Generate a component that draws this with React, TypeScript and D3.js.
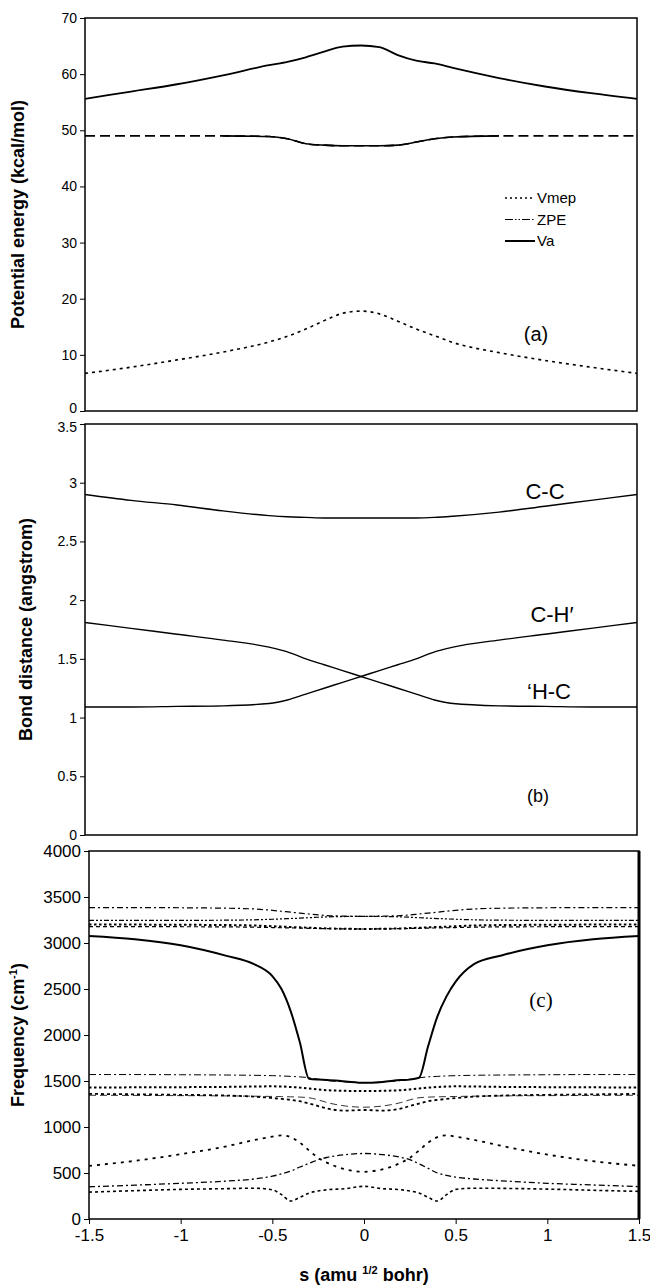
import { useEffect, useRef } from 'react';
import * as d3 from 'd3';

// reaction coordinate s (amu^1/2 bohr)
const sPot = [-1.5, -1.25, -1, -0.75, -0.5, -0.4, -0.3, -0.2, -0.1, 0, 0.1, 0.2, 0.3, 0.4, 0.5, 0.75, 1, 1.25, 1.5];

// panel (a): kcal/mol
const vmep = [6.7, 7.8, 9.1, 10.5, 12.3, 13.3, 14.6, 16.1, 17.4, 17.8, 17.3, 16.0, 14.6, 13.4, 12.2, 10.4, 9.0, 7.8, 6.7];
const zpe = [49, 49, 49, 49, 48.9, 48.5, 47.6, 47.35, 47.25, 47.25, 47.25, 47.35, 47.9, 48.5, 48.8, 49, 49, 49, 49];
const va = [55.6, 56.9, 58.2, 59.8, 61.6, 62.2, 63.0, 64.0, 64.9, 65.1, 64.8, 63.4, 62.4, 61.9, 61.1, 59.3, 57.8, 56.6, 55.6];
const potTicks = [0, 10, 20, 30, 40, 50, 60, 70];

// panel (b): angstrom
const bondCC = [2.9, 2.85, 2.81, 2.76, 2.72, 2.71, 2.705, 2.7, 2.7, 2.7, 2.7, 2.7, 2.7, 2.705, 2.715, 2.75, 2.8, 2.85, 2.9];
const bondHC = [1.81, 1.76, 1.71, 1.66, 1.6, 1.56, 1.5, 1.45, 1.4, 1.35, 1.3, 1.25, 1.2, 1.15, 1.12, 1.1, 1.095, 1.09, 1.09];
const bondCH = [1.09, 1.09, 1.095, 1.1, 1.12, 1.15, 1.2, 1.25, 1.3, 1.35, 1.4, 1.45, 1.5, 1.56, 1.6, 1.66, 1.71, 1.76, 1.81];
const bondTicks = [0, 0.5, 1, 1.5, 2, 2.5, 3, 3.5];

// panel (c): cm-1
const sFreq = [-1.5, -1.25, -1, -0.75, -0.6, -0.5, -0.45, -0.4, -0.35, -0.3, -0.25, -0.2, -0.1, 0, 0.1, 0.2, 0.25, 0.3, 0.35, 0.4, 0.45, 0.5, 0.6, 0.75, 1, 1.25, 1.5];
const freqRxn = [3075, 3040, 2975, 2860, 2770, 2640, 2500, 2260, 1920, 1525, 1515, 1512, 1495, 1480, 1490, 1510, 1515, 1535, 1880, 2200, 2420, 2580, 2770, 2865, 2975, 3040, 3075];
const freqA = [3385, 3385, 3383, 3378, 3370, 3355, 3345, 3335, 3325, 3315, 3305, 3298, 3292, 3290, 3292, 3298, 3305, 3315, 3325, 3335, 3345, 3355, 3370, 3378, 3383, 3385, 3385];
const freqB = [3245, 3245, 3246, 3248, 3252, 3258, 3262, 3266, 3270, 3275, 3280, 3284, 3288, 3290, 3288, 3284, 3280, 3275, 3270, 3266, 3262, 3258, 3252, 3248, 3246, 3245, 3245];
const freqC = [3200, 3200, 3198, 3195, 3190, 3182, 3178, 3174, 3170, 3166, 3162, 3158, 3155, 3152, 3155, 3158, 3162, 3166, 3170, 3174, 3178, 3182, 3190, 3195, 3198, 3200, 3200];
const freqD = [3178, 3178, 3177, 3175, 3172, 3168, 3166, 3164, 3162, 3160, 3158, 3156, 3154, 3152, 3154, 3156, 3158, 3160, 3162, 3164, 3166, 3168, 3172, 3175, 3177, 3178, 3178];
const freqE = [1570, 1570, 1568, 1565, 1562, 1558, 1555, 1550, 1545, 1535, 1520, 1505, 1490, 1482, 1490, 1505, 1520, 1535, 1545, 1550, 1555, 1558, 1562, 1565, 1568, 1570, 1570];
const freqF = [1430, 1431, 1433, 1436, 1440, 1442, 1440, 1435, 1428, 1418, 1408, 1400, 1393, 1390, 1393, 1400, 1408, 1418, 1428, 1435, 1440, 1442, 1440, 1436, 1433, 1431, 1430];
const freqG = [1360, 1355, 1350, 1342, 1330, 1315, 1305, 1295, 1280, 1255, 1228, 1200, 1178, 1185, 1178, 1200, 1228, 1255, 1280, 1295, 1305, 1315, 1330, 1342, 1350, 1355, 1360];
const freqH = [1345, 1343, 1341, 1338, 1335, 1332, 1330, 1328, 1325, 1318, 1295, 1265, 1228, 1215, 1228, 1265, 1295, 1318, 1325, 1328, 1330, 1332, 1335, 1338, 1341, 1343, 1345];
const freqI = [578, 632, 705, 790, 858, 895, 910, 890, 830, 745, 665, 610, 540, 513, 540, 610, 665, 745, 830, 890, 910, 895, 860, 795, 700, 628, 578];
const freqJ = [350, 368, 388, 412, 435, 465, 490, 520, 565, 605, 645, 670, 700, 712, 700, 670, 645, 600, 550, 500, 475, 455, 435, 415, 388, 370, 352];
const freqK = [292, 308, 322, 330, 335, 318, 265, 195, 235, 282, 305, 318, 330, 355, 330, 318, 305, 282, 235, 195, 265, 322, 335, 333, 325, 312, 300];
const freqTicks = [0, 500, 1000, 1500, 2000, 2500, 3000, 3500, 4000];
const sTicks = [-1.5, -1, -0.5, 0, 0.5, 1, 1.5];

const W = 650;
const H = 1287;
const SANS = "'Liberation Sans', Arial, sans-serif";
const NARROW = "'Liberation Sans Narrow', 'Arial Narrow', 'Liberation Sans', sans-serif";

const zip = (xs: number[], ys: number[]) => xs.map((s, i) => [s, ys[i]] as [number, number]);

const App = () => {
    const svgRef = useRef<SVGSVGElement>(null);

    useEffect(() => {
        const svg = d3.select(svgRef.current);
        svg.selectAll('*').remove();

        const panel = (box: { x0: number; x1: number; y0: number; y1: number }, yMax: number, ticks: number[], font: string, fontSize: number) => {
            const x = d3.scaleLinear().domain([-1.5, 1.5]).range([box.x0, box.x1]);
            const y = d3.scaleLinear().domain([0, yMax]).range([box.y1, box.y0]);
            const g = svg.append('g');
            const ax = g.append('g')
                .attr('transform', `translate(${box.x0},0)`)
                .call(d3.axisLeft(y).tickValues(ticks).tickSize(5).tickPadding(3).tickFormat(d => String(d)));
            ax.select('.domain').remove();
            ax.selectAll('line').attr('stroke', '#000').attr('stroke-width', 1);
            ax.selectAll('text').attr('font-family', font).attr('font-size', fontSize).attr('fill', '#000');
            const line = d3.line<[number, number]>().x(d => x(d[0])).y(d => y(d[1])).curve(d3.curveMonotoneX);
            return { g, ax, x, y, line };
        };

        const drawLine = (p: any, data: [number, number][], dash: string | null, width: number) => {
            p.g.append('path')
                .datum(data)
                .attr('fill', 'none')
                .attr('stroke', '#000')
                .attr('stroke-width', width)
                .attr('stroke-dasharray', dash)
                .attr('d', p.line);
        };

        const frame = (p: any, box: any, w: number) => {
            p.g.append('rect')
                .attr('x', box.x0).attr('y', box.y0)
                .attr('width', box.x1 - box.x0).attr('height', box.y1 - box.y0)
                .attr('fill', 'none').attr('stroke', '#000').attr('stroke-width', w);
        };

        // ---- panel (a)
        const boxA = { x0: 85, x1: 637, y0: 18, y1: 411 };
        const pa = panel(boxA, 70, potTicks, NARROW, 14);
        // bottom "0" sits right on top of the next panel's "3.5", as in the source
        pa.ax.selectAll('text').filter((d: any) => d === 0).attr('dy', '0.1em');
        drawLine(pa, zip(sPot, vmep), '3,4', 1.6);
        drawLine(pa, zip(sPot, zpe), '10,5', 1.6);
        drawLine(pa, zip(sPot, zpe).filter(d => Math.abs(d[0]) <= 0.75), null, 1.6);
        drawLine(pa, zip(sPot, va), null, 1.8);
        frame(pa, boxA, 1.5);

        const legend = [
            { label: 'Vmep', dash: '2,3', w: 1.6 },
            { label: 'ZPE', dash: '8,2,1.5,2,1.5,2', w: 1.2 },
            { label: 'Va', dash: null, w: 2 },
        ];
        legend.forEach((l, i) => {
            const ly = 198 + i * 21.5;
            pa.g.append('line').attr('x1', 505).attr('x2', 535).attr('y1', ly).attr('y2', ly)
                .attr('stroke', '#000').attr('stroke-width', l.w).attr('stroke-dasharray', l.dash);
            pa.g.append('text').attr('x', 537).attr('y', ly + 5).text(l.label)
                .attr('font-family', NARROW).attr('font-size', 15);
        });
        pa.g.append('text').attr('x', 536).attr('y', 341).attr('text-anchor', 'middle')
            .attr('font-family', SANS).attr('font-size', 20).text('(a)');
        svg.append('text')
            .attr('transform', `translate(24,${(boxA.y0 + boxA.y1) / 2}) rotate(-90)`)
            .attr('text-anchor', 'middle').attr('font-family', SANS).attr('font-weight', 'bold')
            .attr('font-size', 18).text('Potential energy (kcal/mol)');

        // ---- panel (b)
        const boxB = { x0: 85, x1: 637, y0: 424, y1: 835 };
        const pb = panel(boxB, 3.5, bondTicks, NARROW, 14);
        pb.ax.selectAll('text').filter((d: any) => d === 3.5).attr('dy', '0.5em');
        drawLine(pb, zip(sPot, bondCC), null, 1.4);
        drawLine(pb, zip(sPot, bondHC), null, 1.4);
        drawLine(pb, zip(sPot, bondCH), null, 1.4);
        frame(pb, boxB, 1.5);
        const bondLabels = [
            { t: 'C-C', x: 545, y: 499 },
            { t: 'C-H\u2032', x: 552, y: 622 },
            { t: '\u2018H-C', x: 549, y: 699 },
        ];
        bondLabels.forEach(b => {
            pb.g.append('text').attr('x', b.x).attr('y', b.y).attr('text-anchor', 'middle')
                .attr('font-family', NARROW).attr('font-size', 22).text(b.t);
        });
        pb.g.append('text').attr('x', 538).attr('y', 802).attr('text-anchor', 'middle')
            .attr('font-family', SANS).attr('font-size', 18).text('(b)');
        svg.append('text')
            .attr('transform', `translate(32,${(boxB.y0 + boxB.y1) / 2}) rotate(-90)`)
            .attr('text-anchor', 'middle').attr('font-family', SANS).attr('font-weight', 'bold')
            .attr('font-size', 18).text('Bond distance (angstrom)');

        // ---- panel (c)
        const boxC = { x0: 89, x1: 639, y0: 851, y1: 1219 };
        const pc = panel(boxC, 4000, freqTicks, SANS, 17);
        const styles: [number[], string, number][] = [
            [freqA, '6,3,2,3', 1.2],
            [freqB, '5,2,2,2,2,2', 1.2],
            [freqC, '2.5,2.5', 2],
            [freqD, '4,3', 1.2],
            [freqE, '7,3,2,3', 1],
            [freqF, '2.5,2.5', 2],
            [freqG, '3,3', 1.8],
            [freqH, '7,4', 0.8],
            [freqI, '3,5', 1.8],
            [freqJ, '6,3,2,3', 1.3],
            [freqK, '3,3', 1.6],
        ];
        styles.forEach(([vals, dash, w]) => drawLine(pc, zip(sFreq, vals), dash, w));
        drawLine(pc, zip(sFreq, freqRxn), null, 2);
        frame(pc, boxC, 1.5);
        pc.g.append('line').attr('x1', boxC.x1).attr('x2', boxC.x1).attr('y1', boxC.y0).attr('y2', boxC.y1)
            .attr('stroke', '#000').attr('stroke-width', 3);

        const xa = pc.g.append('g')
            .attr('transform', `translate(0,${boxC.y1})`)
            .call(d3.axisBottom(pc.x).tickValues(sTicks).tickSize(5).tickPadding(5).tickFormat(d => String(d)));
        xa.select('.domain').remove();
        xa.selectAll('line').attr('stroke', '#000');
        xa.selectAll('text').attr('font-family', SANS).attr('font-size', 17).attr('fill', '#000');

        pc.g.append('text').attr('x', 541).attr('y', 1007).attr('text-anchor', 'middle')
            .attr('font-family', "'Liberation Serif', 'Times New Roman', serif").attr('font-size', 21).text('(c)');

        const fTitle = svg.append('text')
            .attr('transform', `translate(24,${(boxC.y0 + boxC.y1) / 2}) rotate(-90)`)
            .attr('text-anchor', 'middle').attr('font-family', SANS).attr('font-weight', 'bold')
            .attr('font-size', 18);
        fTitle.append('tspan').text('Frequency (cm');
        fTitle.append('tspan').attr('font-size', 11).attr('dy', -7).text('-1');
        fTitle.append('tspan').attr('dy', 7).text(')');

        const sTitle = svg.append('text')
            .attr('x', pc.x(0)).attr('y', 1281).attr('text-anchor', 'middle')
            .attr('font-family', SANS).attr('font-weight', 'bold').attr('font-size', 18);
        sTitle.append('tspan').text('s (amu ');
        sTitle.append('tspan').attr('font-size', 11).attr('dy', -7).text('1/2');
        sTitle.append('tspan').attr('dy', 7).text(' bohr)');
    }, []);

    return (
        <svg ref={svgRef} width={W} height={H}
            style={{ position: 'absolute', left: 0, top: 0, background: '#fff' }} />
    );
};

export default App;
